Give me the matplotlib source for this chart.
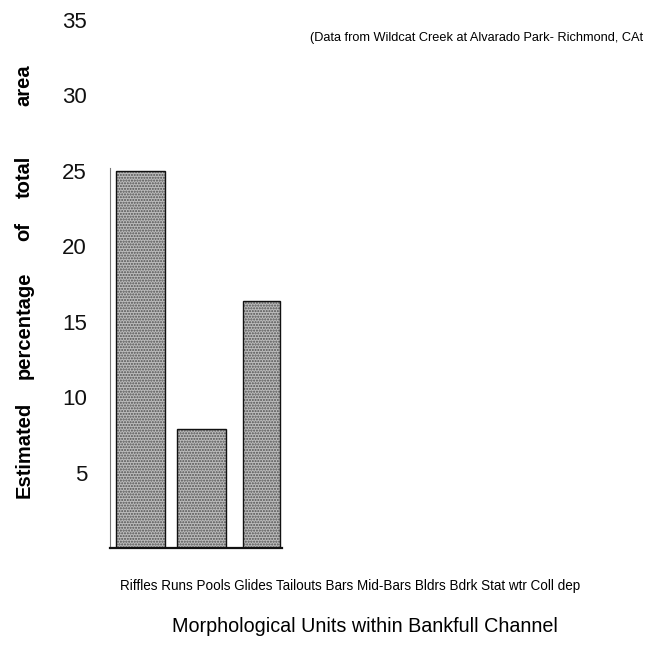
import numpy as np
import matplotlib
matplotlib.use("Agg")
import matplotlib.pyplot as plt

# --- data ---
categories = ["Riffles", "Runs", "Pools", "Glides", "Tailouts", "Bars",
              "Mid-Bars", "Bldrs", "Bdrk", "Stat wtr", "Coll dep"]
percent = [25.0, 7.9, 16.4, 0, 0, 0, 0, 0, 0, 0, 0]
yticks = [5, 10, 15, 20, 25, 30, 35]

# y label is letter-spaced in the scan, so each word is placed on its own
ylabel_words = ["Estimated", "percentage", "of", "total", "area"]
ylabel_word_y = [450, 325, 232, 177, 85]   # pixel centres, from the top

fig = plt.figure(figsize=(6.7, 6.46), dpi=100)
ax = fig.add_axes([110 / 670, 98 / 646, 172 / 670, 528 / 646])

x = np.array([-0.07, 0.945, 1.945] + list(np.arange(3, len(categories))))
widths = [0.82, 0.82, 0.62] + [0.8] * (len(categories) - 3)

# stippled fill, then the dark outline
ax.bar(x, percent, width=widths, color="#bcbcbc", edgecolor="#505050",
       hatch="......", linewidth=0, zorder=2)
ax.bar(x, percent, width=widths, fill=False, edgecolor="#111111",
       linewidth=1.0, zorder=3)

ax.set_xlim(-0.58, 2.28)
ax.set_ylim(0, 35)
ax.set_yticks(yticks)
ax.set_yticklabels([str(v) for v in yticks], fontsize=16,
                   family=["Liberation Sans", "DejaVu Sans"])
ax.tick_params(axis="y", length=0, pad=16.5, labelcolor="#111111")
ax.set_xticks([])

for s in ["top", "right"]:
    ax.spines[s].set_visible(False)
ax.spines["left"].set_color("#777777")
ax.spines["left"].set_linewidth(0.8)
ax.spines["left"].set_bounds(0, 25.2)
ax.spines["bottom"].set_linewidth(1.6)
ax.spines["bottom"].set_color("#111111")

for word, yc in zip(ylabel_words, ylabel_word_y):
    fig.text(24 / 670, 1 - yc / 646, word, rotation=90, ha="center",
             va="center", fontsize=14.5, fontweight="bold",
             family=["Liberation Sans", "DejaVu Sans"])

fig.text(310 / 670, 1 - 38 / 646,
         "(Data from Wildcat Creek at Alvarado Park- Richmond, CAt",
         ha="left", va="center", fontsize=9.15,
         family=["Liberation Sans", "DejaVu Sans"])

fig.text(350 / 670, 1 - 586 / 646, " ".join(categories),
         ha="center", va="center", fontsize=9.75,
         family=["Liberation Sans", "DejaVu Sans"])

fig.text(364.5 / 670, 1 - 627 / 646, "Morphological Units within Bankfull Channel",
         ha="center", va="center", fontsize=14.2,
         family=["Liberation Sans", "DejaVu Sans"])

fig.savefig("out.png", dpi=100)
